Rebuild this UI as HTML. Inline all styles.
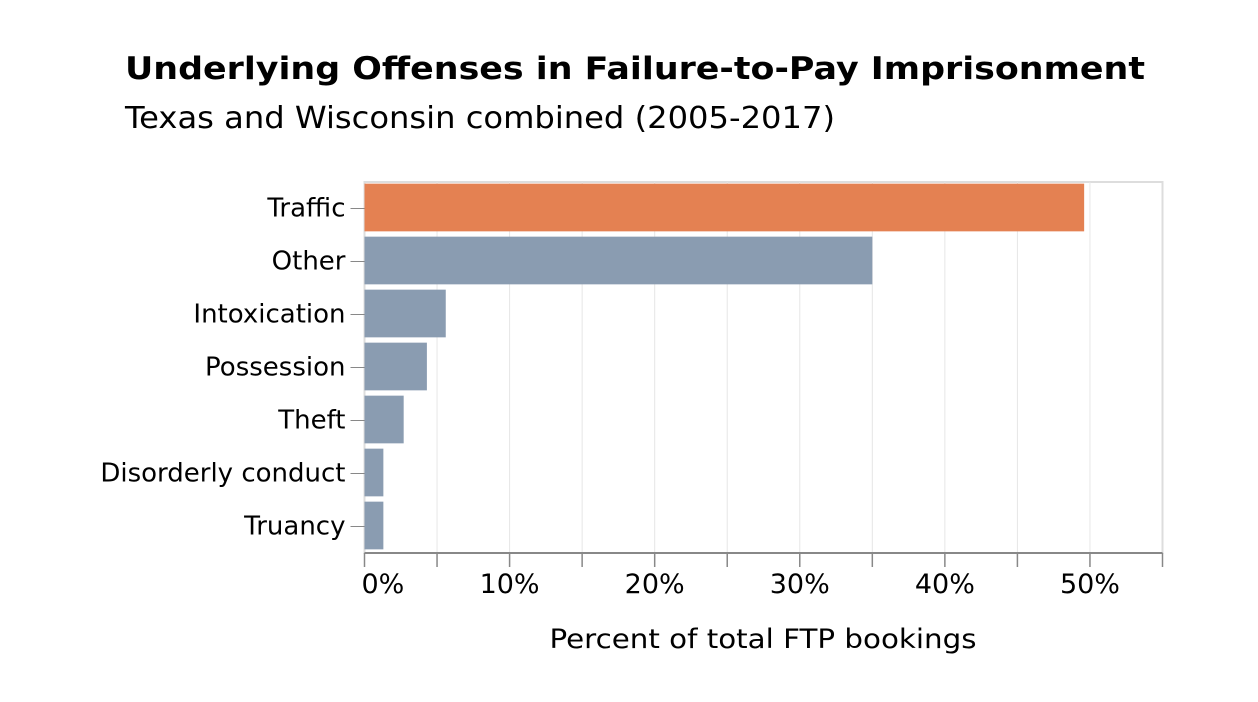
<!DOCTYPE html>
<html><head><meta charset="utf-8"><style>body{margin:0;background:#fff}svg{display:block;font-family:"DejaVu Sans","Liberation Sans",sans-serif}</style></head>
<body>
<svg id="chart" width="1258" height="702" viewBox="0 0 1258 702">
<text x="125" y="79" font-size="31" font-weight="bold" fill="#000" textLength="1020" lengthAdjust="spacingAndGlyphs">Underlying Offenses in Failure-to-Pay Imprisonment</text>
<text x="125" y="128" font-size="30" fill="#000" textLength="710" lengthAdjust="spacingAndGlyphs">Texas and Wisconsin combined (2005-2017)</text>
<g id="plot"></g>
<text x="763" y="648" font-size="27" text-anchor="middle" fill="#000" textLength="427" lengthAdjust="spacingAndGlyphs">Percent of total FTP bookings</text>
</svg>
<script>
const categories=["Traffic","Other","Intoxication","Possession","Theft","Disorderly conduct","Truancy"];
const values=[49.6,35.0,5.6,4.3,2.7,1.3,1.3];
const tickValues=[0,10,20,30,40,50];
const tickLabels=["0%","10%","20%","30%","40%","50%"];
const L=364.5,T=182,W=798,H=371,MAX=55;
const x=v=>L+v/MAX*W;
const step=H/categories.length;
const y=i=>T+i*step;
const ns="http://www.w3.org/2000/svg";
const g=document.getElementById('plot');
function mk(t,a){const e=document.createElementNS(ns,t);for(const k in a)e.setAttribute(k,a[k]);g.appendChild(e);return e;}
let e=mk('rect',{x:L,y:T,width:W,height:H,fill:'none',stroke:'#ddd','stroke-width':2});


for(let v=5;v<MAX;v+=5){e=mk('line',{x1:x(v),x2:x(v),y1:T,y2:T+H,stroke:'#e6e6e6','stroke-width':1});

}
categories.forEach((c,i)=>{
 const pad=step*0.05;
 e=mk('rect',{x:L,y:y(i)+pad-1,width:x(values[i])-L,height:step-2*pad,fill:i===0?'#e48152':'#8a9cb1'});
 
 
 e=mk('line',{x1:L-14,x2:L,y1:y(i)+step/2,y2:y(i)+step/2,stroke:'#888','stroke-width':1});
 
 
 e=mk('text',{x:L-19,y:y(i)+step/2+8,'font-size':26,'text-anchor':'end',fill:'#000'});
 e.textContent=c;
 
 
});
e=mk('line',{x1:L,x2:L+W,y1:T+H,y2:T+H,stroke:'#888','stroke-width':2});


for(let v=0;v<=MAX;v+=5){e=mk('line',{x1:x(v),x2:x(v),y1:T+H,y2:T+H+14,stroke:'#888','stroke-width':1.5});

}
tickValues.forEach((v,i)=>{
 e=mk('text',{x:x(v)+(i===0?-3:0),y:593,'font-size':27,'text-anchor':i===0?'start':'middle',fill:'#000'});
 e.textContent=tickLabels[i];
 
 
});
</script>
</body></html>
